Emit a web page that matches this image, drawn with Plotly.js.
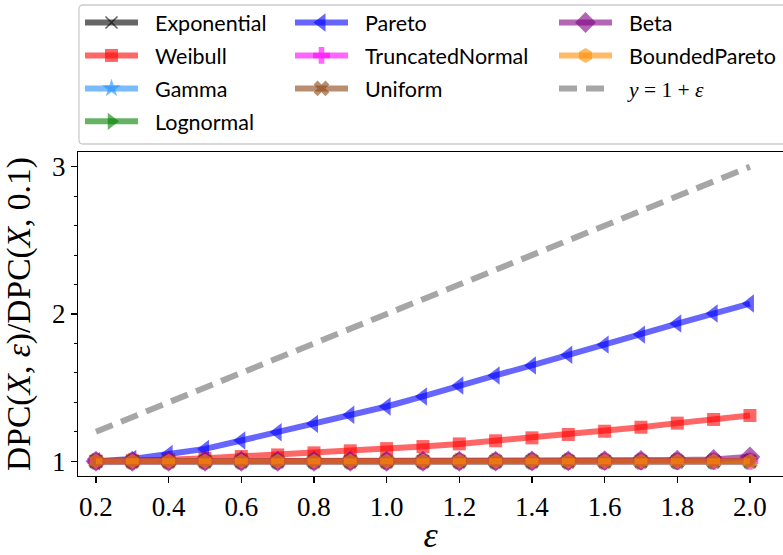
<!DOCTYPE html>
<html><head><meta charset="utf-8">
<script src="https://cdn.plot.ly/plotly-3.0.1.min.js"></script>
<style>html,body{margin:0;padding:0;overflow:hidden;background:#fff}</style>
</head><body><div id="chart" style="width:783px;height:555px"></div>
<script>
// ---- data ----
const eps = [0.2,0.3,0.4,0.5,0.6,0.7,0.8,0.9,1.0,1.1,1.2,1.3,1.4,1.5,1.6,1.7,1.8,1.9,2.0];
const exponential = [1,1,1,1,1,1,1,1,1,1,1,1,1,1,1,1,1,1,1];
const weibull = [1.0,1.003,1.01,1.02,1.032,1.043,1.057,1.071,1.086,1.10,1.118,1.139,1.159,1.182,1.204,1.231,1.259,1.284,1.311];
const gamma = [1,1,1,1,1,1,1,1,1,1,1,1,1,1,1,1,1,1,1];
const lognormal = [1,1,1,1,1,1,1,1,1,1,1,1,1,1,1,1,1,1,1];
const pareto = [1.0,1.015,1.05,1.084,1.141,1.197,1.254,1.316,1.372,1.44,1.515,1.583,1.651,1.724,1.792,1.86,1.935,2.003,2.071];
const truncatedNormal = [1,1,1,1,1,1,1,1,1,1,1,1,1,1,1,1,1,1,1];
const uniform = [1,1,1,1,1,1,1,1,1,1,1,1,1,1,1,1,1,1,1];
const beta = [1,1,1,1,1,1,1,1,1,1,1,1.001,1.002,1.003,1.004,1.006,1.008,1.012,1.03];
const boundedPareto = [1,1,1,1,1,1,1,1,1,1,1,1,1,1,1,1,1,1,1];
const reference = [1.2,1.3,1.4,1.5,1.6,1.7,1.8,1.9,2.0,2.1,2.2,2.3,2.4,2.5,2.6,2.7,2.8,2.9,3.0];
const xTicks = [0.2,0.4,0.6,0.8,1.0,1.2,1.4,1.6,1.8,2.0];
const xTickText = ['0.2','0.4','0.6','0.8','1.0','1.2','1.4','1.6','1.8','2.0'];
const yTicks = [1,2,3];
const yTickText = ['1','2','3'];

// ---- styles ----
function rgba(hex,a){const n=parseInt(hex.slice(1),16);return `rgba(${n>>16},${(n>>8)&255},${n&255},${a})`;}
function series(name,y,hex,symbol,size,legend,extra){
  const t = {
    type:'scatter', mode:'lines+markers', x:eps, y:y, name:name,
    legend:legend, legendgroup:name,
    line:{color:rgba(hex,0.6), width:6},
    marker:{symbol:symbol, size:size, color:rgba(hex,0.6), line:{width:0}}
  };
  if(extra) extra(t);
  return t;
}
const traces = [
  series('Exponential', exponential, '#000000', 'x-thin', 12, 'legend', t=>{t.marker.line={color:rgba('#000000',0.6),width:1.6};}),
  series('Weibull', weibull, '#ff0000', 'square', 13, 'legend'),
  series('Gamma', gamma, '#1e90ff', 'star', 14, 'legend'),
  series('Lognormal', lognormal, '#008000', 'triangle-right', 15, 'legend'),
  series('Pareto', pareto, '#0000ff', 'triangle-left', 16, 'legend2'),
  series('TruncatedNormal', truncatedNormal, '#ff00ff', 'cross', 14, 'legend2'),
  series('Uniform', uniform, '#8b4513', 'x', 14, 'legend2'),
  series('Beta', beta, '#800080', 'diamond', 16, 'legend3'),
  series('BoundedPareto', boundedPareto, '#ff8c00', 'hexagon', 15, 'legend3'),
  {type:'scatter', mode:'lines', x:eps, y:reference,
   name:'<span style="font-family:Liberation Serif"><i>y</i> = 1 + <i>ε</i></span>',
   legend:'legend3', legendgroup:'ref',
   line:{color:rgba('#808080',0.7), width:6, dash:'18px,9px'}}
];

const L=78, T=152, B=79, W=783, H=555;
const pw = W-L, ph = H-T-B;
const px = v => (v-L)/pw;
const py = v => (H-B-v)/ph;

function legendAt(xpx){
  return {x:px(xpx), y:py(2), xanchor:'left', yanchor:'top', orientation:'v',
    bgcolor:'rgba(0,0,0,0)', borderwidth:0,
    font:{family:'Lato, DejaVu Sans, sans-serif', size:21.5, color:'#000'},
    traceorder:'grouped', tracegroupgap:2, itemwidth:65};
}

// rounded legend frame
const fx0=px(79), fx1=px(792), fy0=py(5), fy1=py(144), rx=4/pw, ry=4/ph;
const framePath = `M${fx0+rx},${fy0} L${fx1-rx},${fy0} Q${fx1},${fy0} ${fx1},${fy0-ry} L${fx1},${fy1+ry} Q${fx1},${fy1} ${fx1-rx},${fy1} L${fx0+rx},${fy1} Q${fx0},${fy1} ${fx0},${fy1+ry} L${fx0},${fy0-ry} Q${fx0},${fy0} ${fx0+rx},${fy0} Z`;

const serif = 'Liberation Serif, DejaVu Serif, serif';
const layout = {
  width:W, height:H, margin:{l:L, r:0, t:T, b:B, pad:0},
  paper_bgcolor:'#fff', plot_bgcolor:'#fff',
  showlegend:true,
  legend:legendAt(80), legend2:legendAt(290), legend3:legendAt(554),
  xaxis:{range:[0.1505,2.091], tickmode:'array', tickvals:xTicks, ticktext:xTickText,
    ticks:'outside', ticklen:6, tickwidth:1.2, tickcolor:'#000',
    showline:true, linecolor:'#000', linewidth:1.2, mirror:true,
    showgrid:false, zeroline:false,
    tickfont:{family:serif, size:27, color:'#000'},
    title:{text:'<i>ε</i>', font:{family:serif, size:36, color:'#000'}, standoff:4}},
  yaxis:{range:[0.9,3.1], tickmode:'array', tickvals:yTicks, ticktext:yTickText,
    ticks:'outside', ticklen:6, tickwidth:1.2, tickcolor:'#000',
    minor:{tickmode:'linear', tick0:1, dtick:0.2, ticks:'outside', ticklen:3, tickwidth:1, tickcolor:'#000', showgrid:false},
    showline:true, linecolor:'#000', linewidth:1.2, mirror:false,
    showgrid:false, zeroline:false,
    tickfont:{family:serif, size:27, color:'#000'},
    title:{text:'DPC(<i>X</i>, <i>ε</i>)/DPC(<i>X</i>, 0.1)', font:{family:serif, size:33.5, color:'#000'}, standoff:14}},
  shapes:[{type:'path', xref:'paper', yref:'paper', path:framePath, line:{color:'#cccccc', width:1.3}, fillcolor:'rgba(255,255,255,0.8)', layer:'below'}]
};
Plotly.newPlot('chart', traces, layout, {staticPlot:true, displayModeBar:false}).then(gd => {
  // matplotlib-style legend handles: 53px line with a gap before the label
  gd.querySelectorAll('.legendlines path').forEach(p => p.setAttribute('d', 'M5,0h53'));
  gd.querySelectorAll('.legendpoints path').forEach(p => p.setAttribute('transform', 'translate(31.5,0)'));
});
</script></body></html>
